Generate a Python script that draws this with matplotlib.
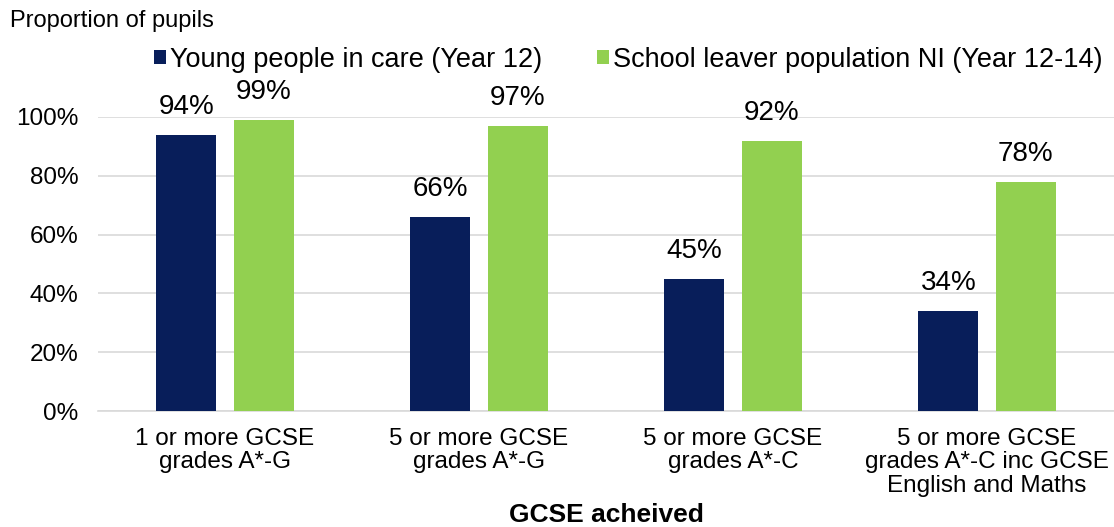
import matplotlib.pyplot as plt
import numpy as np

# Data
categories = ["1 or more GCSE\ngrades A*-G",
              "5 or more GCSE\ngrades A*-G",
              "5 or more GCSE\ngrades A*-C",
              "5 or more GCSE\ngrades A*-C inc GCSE\nEnglish and Maths"]
in_care = [94, 66, 45, 34]
ni_leavers = [99, 97, 92, 78]
series_names = ["Young people in care (Year 12)",
                "School leaver population NI (Year 12-14)"]

navy = '#081E5A'
green = '#92D050'

plt.rcParams['font.family'] = ['Liberation Sans', 'DejaVu Sans']

fig = plt.figure(figsize=(11.14, 5.27), dpi=100)
ax = fig.add_axes([0.088, 0.22, 0.912, 0.558])

x = np.arange(len(categories))
w = 0.236
b1 = ax.bar(x - 0.152, in_care, w, color=navy, label=series_names[0], zorder=3)
b2 = ax.bar(x + 0.152, ni_leavers, w, color=green, label=series_names[1], zorder=3)

for bars, vals in ((b1, in_care), (b2, ni_leavers)):
    for r, v in zip(bars, vals):
        ax.text(r.get_x() + r.get_width() / 2, v + 5, "%d%%" % v,
                ha='center', va='bottom', fontsize=20, clip_on=False)

ax.set_xlim(-0.5, 3.5)
ax.set_ylim(0, 100)
ax.set_yticks(range(0, 101, 20))
ax.set_yticklabels(["%d%%" % t for t in range(0, 101, 20)])
ax.set_xticks(x)
ax.set_xticklabels(categories, fontsize=17.5, linespacing=1.1)
ax.tick_params(axis='y', labelsize=17.5, length=0, pad=14)
ax.tick_params(axis='x', length=0, pad=12)
ax.grid(axis='y', color='#D9D9D9', linewidth=1.2, zorder=0)
for s in ('top', 'right', 'left'):
    ax.spines[s].set_visible(False)
ax.spines['bottom'].set_color('#D9D9D9')
ax.spines['bottom'].set_linewidth(1.2)

ax.set_xlabel("GCSE acheived", fontsize=19, fontweight='bold', labelpad=4)
fig.text(0.009, 0.96, "Proportion of pupils", fontsize=17, va='center')

fig.legend(handles=[b1, b2], loc='center', bbox_to_anchor=(0.564, 0.887),
           ncol=2, frameon=False, fontsize=19.5, handlelength=0.45,
           handleheight=0.45, handletextpad=0.15, columnspacing=2.0)

fig.savefig("out.png", dpi=100)
